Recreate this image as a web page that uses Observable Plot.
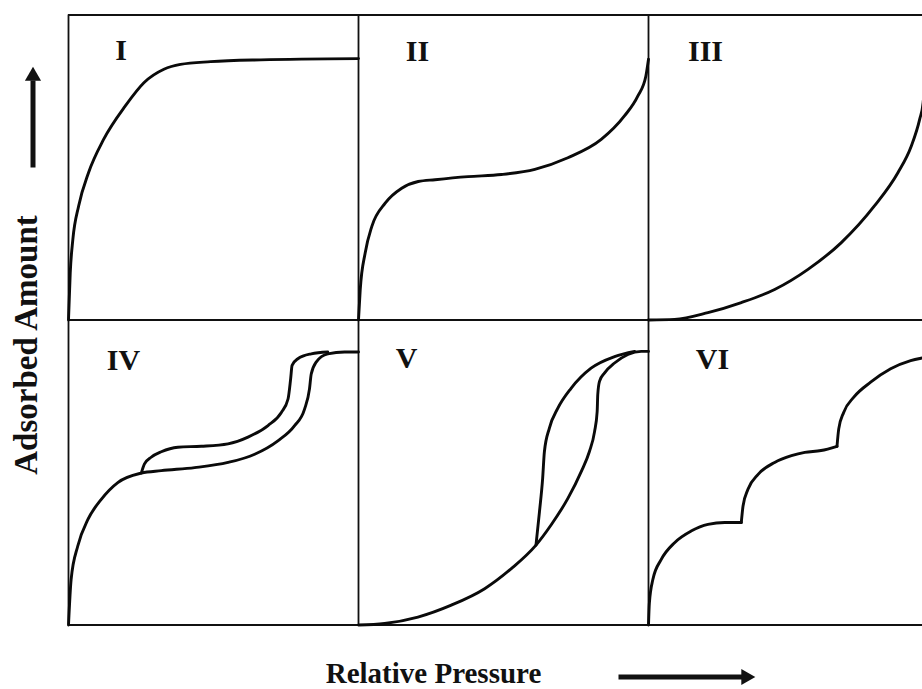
<!DOCTYPE html>
<html>
<head>
<meta charset="utf-8">
<script src="https://cdn.jsdelivr.net/npm/d3@7"></script>
<script src="https://cdn.jsdelivr.net/npm/@observablehq/plot@0.6"></script>
<style>
  html, body { margin: 0; padding: 0; background: #fff; overflow: hidden; }
  #chart { width: 922px; height: 689px; overflow: hidden; }
</style>
</head>
<body>
<div id="chart"></div>
<script>
// IUPAC adsorption isotherm types I–VI.
// Each curve is a list of [relative pressure, adsorbed amount] pairs, both 0–1 within its panel.
const panelNames = ["I", "II", "III", "IV", "V", "VI"];

const typeI = [[0, 0], [0.006, 0.155], [0.015, 0.264], [0.035, 0.374], [0.069, 0.483], [0.121, 0.592],
  [0.196, 0.702], [0.26, 0.778], [0.329, 0.822], [0.386, 0.838], [0.49, 0.847], [0.663, 0.853], [1, 0.857]];

const typeII = [[0, 0], [0.006, 0.1], [0.023, 0.22], [0.046, 0.307], [0.092, 0.383], [0.149, 0.432],
  [0.206, 0.454], [0.264, 0.46], [0.378, 0.47], [0.493, 0.477], [0.608, 0.494], [0.722, 0.532],
  [0.837, 0.592], [0.917, 0.669], [0.963, 0.734], [0.991, 0.8], [1.0, 0.855]];

const typeIII = [[0, 0], [0.09, 0.002], [0.205, 0.024], [0.32, 0.057], [0.435, 0.1], [0.55, 0.166],
  [0.664, 0.253], [0.779, 0.374], [0.86, 0.483], [0.906, 0.57], [0.935, 0.658], [0.947, 0.713],
  [0.953, 0.8], [0.956, 0.89]];

const typeIVAdsorption = [[0, 0], [0.009, 0.149], [0.032, 0.259], [0.067, 0.346], [0.113, 0.412],
  [0.17, 0.467], [0.251, 0.498], [0.32, 0.506], [0.435, 0.516], [0.55, 0.533], [0.642, 0.56],
  [0.722, 0.604], [0.779, 0.653], [0.814, 0.708], [0.831, 0.774], [0.837, 0.823], [0.854, 0.862],
  [0.894, 0.889], [0.952, 0.895], [1.0, 0.895]];

const typeIVDesorption = [[0.251, 0.498], [0.262, 0.528], [0.285, 0.55], [0.32, 0.568], [0.377, 0.583],
  [0.458, 0.586], [0.55, 0.594], [0.619, 0.616], [0.688, 0.654], [0.734, 0.697], [0.757, 0.741],
  [0.766, 0.807], [0.771, 0.851], [0.791, 0.873], [0.837, 0.889], [0.894, 0.895]];

const typeVAdsorption = [[0, 0], [0.09, 0.005], [0.205, 0.026], [0.32, 0.065], [0.435, 0.119],
  [0.527, 0.185], [0.612, 0.262], [0.664, 0.328], [0.722, 0.415], [0.768, 0.503], [0.796, 0.568],
  [0.814, 0.634], [0.823, 0.7], [0.825, 0.755], [0.831, 0.799], [0.848, 0.826], [0.883, 0.859],
  [0.929, 0.887], [0.975, 0.897], [1.0, 0.897]];

const typeVDesorption = [[0.612, 0.262], [0.624, 0.371], [0.635, 0.481], [0.641, 0.568], [0.658, 0.645],
  [0.687, 0.71], [0.733, 0.776], [0.802, 0.842], [0.883, 0.88], [0.952, 0.897]];

const typeVIStep1 = [[0, 0], [0.003, 0.072], [0.015, 0.149], [0.044, 0.215], [0.09, 0.27], [0.147, 0.308],
  [0.205, 0.33], [0.263, 0.336], [0.32, 0.336]];
const typeVIStep2 = [[0.32, 0.336], [0.326, 0.39], [0.343, 0.445], [0.378, 0.494], [0.435, 0.533],
  [0.493, 0.555], [0.539, 0.566], [0.595, 0.572], [0.65, 0.586]];
const typeVIStep3 = [[0.65, 0.586], [0.656, 0.643], [0.673, 0.697], [0.708, 0.747], [0.766, 0.796],
  [0.835, 0.84], [0.904, 0.867], [0.947, 0.876], [0.97, 0.88]];

const curves = [
  {panel: "I", points: typeI},
  {panel: "II", points: typeII},
  {panel: "III", points: typeIII},
  {panel: "IV", points: typeIVAdsorption},
  {panel: "IV", points: typeIVDesorption},
  {panel: "V", points: typeVAdsorption},
  {panel: "V", points: typeVDesorption},
  {panel: "VI", points: typeVIStep1},
  {panel: "VI", points: typeVIStep2},
  {panel: "VI", points: typeVIStep3}
];

const xTitle = "Relative Pressure";
const yTitle = "Adsorbed Amount";

// Grid layout: three columns, two rows; each panel spans one unit on both scales.
const panels = panelNames.map((name, i) => ({name, col: i % 3, row: i < 3 ? 1 : 0}));
const panelOf = new Map(panels.map(p => [p.name, p]));
const colEdges = [0, 1, 2, 3];
const rowEdges = [0, 1, 2];

// Numeral placement inside each panel's top-left corner, in pixels from that corner.
const numeralLeft = [52.5, 59, 57, 55, 48, 64];
const numeralTop = [35, 36, 36.5, 40, 38.5, 39];

const table = curves.flatMap((c, k) => {
  const p = panelOf.get(c.panel);
  return c.points.map(([u, v]) => ({seg: k, x: p.col + u, y: p.row + v}));
});

// Pixel geometry: panels are 290 px wide from x = 68, 305 px tall from y = 14.5.
const pxW = 290, pxH = 305, left = 68, bottom = 624.5, W = 922, H = 689;
const sx = px => (px - left) / pxW;
const sy = py => (bottom - py) / pxH;

const serif = "'Liberation Serif', 'Times New Roman', Times, serif";
const ink = "#111";

const upArrow = {x: sx(32.5), y1: sy(167), y2: sy(80), head: sy(75.5)};
const rightArrow = {y: sy(676.5), x1: sx(618), x2: sx(746), head: sx(745.5)};

const chart = Plot.plot({
  width: W,
  height: H,
  margin: 0,
  x: {domain: [sx(0), sx(W)], axis: null},
  y: {domain: [sy(H), sy(0)], axis: null},
  marks: [
    Plot.ruleX(colEdges, {y1: 0, y2: 2, stroke: ink, strokeWidth: 1.8}),
    Plot.ruleY(rowEdges, {x1: 0, x2: 3, stroke: ink, strokeWidth: 1.8}),
    Plot.line(table, {
      x: "x", y: "y", z: "seg", curve: "monotone-x",
      stroke: "#0a0a0a", strokeWidth: 2.9, strokeLinecap: "round", strokeLinejoin: "round"
    }),
    Plot.text(panels, {
      x: (d, i) => d.col + numeralLeft[i] / pxW,
      y: (d, i) => d.row + 1 - numeralTop[i] / pxH,
      text: "name",
      fontFamily: serif, fontWeight: "bold", fontSize: 30, fill: ink
    }),
    Plot.text([xTitle], {
      x: sx(433), y: sy(673), text: d => d,
      fontFamily: serif, fontWeight: "bold", fontSize: 29, fill: ink
    }),
    Plot.text([yTitle], {
      x: sx(26), y: sy(344.5), text: d => d, rotate: -90,
      fontFamily: serif, fontWeight: "bold", fontSize: 33, fill: ink
    }),
    // direction arrows beside the axis titles
    Plot.link([upArrow], {x1: "x", x2: "x", y1: "y1", y2: "y2", stroke: ink, strokeWidth: 5}),
    Plot.dot([upArrow], {x: "x", y: "head", symbol: "triangle", r: 6, fill: ink, stroke: "none"}),
    Plot.link([rightArrow], {x1: "x1", x2: "x2", y1: "y", y2: "y", stroke: ink, strokeWidth: 5}),
    Plot.dot([rightArrow], {x: "head", y: "y", symbol: "triangle", rotate: 90, r: 6, fill: ink, stroke: "none"})
  ]
});

document.getElementById("chart").appendChild(chart);
</script>
</body>
</html>
